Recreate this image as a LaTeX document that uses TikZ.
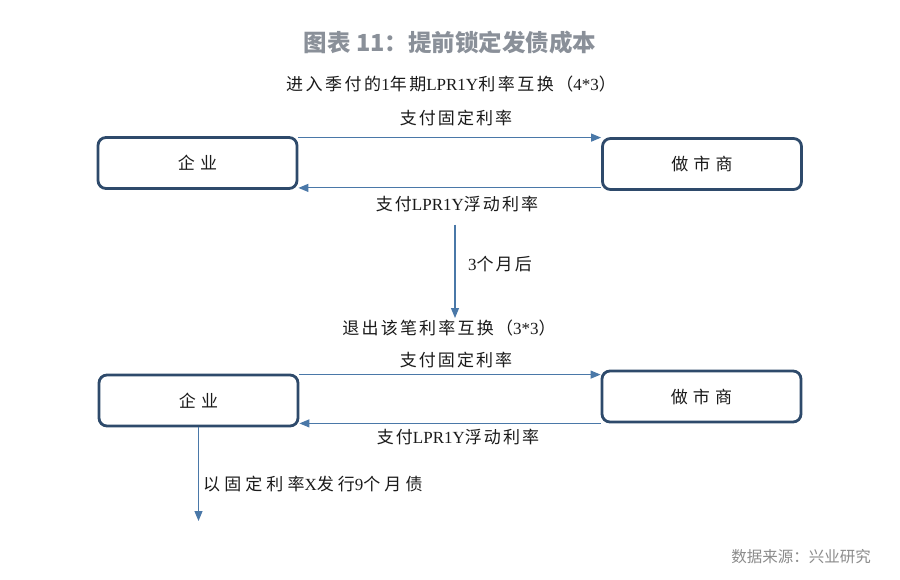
\documentclass[tikz,border=0pt]{standalone}
\usepackage{fontspec}
\usetikzlibrary{arrows.meta}
\setmainfont{Liberation Serif}
\newfontfamily\cjk{Noto Sans CJK SC}
\newcommand\cz[2][12]{{\cjk\addfontfeature{LetterSpace=#1}#2}}
\definecolor{boxc}{HTML}{2E4A6B}
\definecolor{arrc}{HTML}{4A78A8}
\definecolor{titlec}{HTML}{8A9099}
\definecolor{srcc}{HTML}{8C8C8C}
\definecolor{txtc}{HTML}{1A1A1A}
\begin{document}
\begin{tikzpicture}[x=1pt,y=-1pt,
  box/.style={draw=boxc, line width=2.8pt, rounded corners=8pt, minimum width=199pt, minimum height=51pt, fill=white, inner sep=0pt, text=txtc, font=\fontsize{17}{19}\selectfont},
  arr/.style={draw=arrc, line width=1.1pt, -{Triangle[length=10pt,width=8pt]}, fill=arrc},
  lab/.style={font=\fontsize{17}{19}\selectfont, inner sep=0pt, text=txtc},
  sublab/.style={font=\fontsize{17}{19}\selectfont, inner sep=0pt, text=txtc},
]
\path[fill=white] (0,0) rectangle (900,580);
\useasboundingbox (0,0) rectangle (900,580);

\node[font=\fontsize{23.5}{27}\selectfont\bfseries, text=titlec, inner sep=0pt] (title) at (450,43) {\cjk 图表 11：提前锁定发债成本};

\node[sublab] (sub1) at (451,84) {\cz[15]{进入季付的}1\cz[15]{年期}LPR1Y\cz[15]{利率互换（}4*3\cz[15]{）}};

\node[box] (A1) at (197.5,163) {\cz[30]{企业}};
\node[box] (B1) at (702,164) {\cz[30]{做市商}};
\draw[arr] ([yshift=-1.5pt]A1.north east) -- ([yshift=-1.5pt]A1.north east -| B1.west);
\node[lab] (l1) at (456,118) {\cz{支付固定利率}};
\coordinate (c1) at ([yshift=3pt]B1.south west);
\draw[arr] (c1) -- (c1 -| A1.east);
\node[lab] (l2) at (457,204) {\cz{支付}LPR1Y\cz{浮动利率}};

\coordinate (m1) at (455,225);
\coordinate (m2) at (455,318);
\draw[arr] (m1) -- (m2);
\node[lab, anchor=west] (l3) at (468,264) {3\cz{个月后}};

\node[sublab] (sub2) at (449,328) {\cz[13]{退出该笔利率互换（}3*3\cz[13]{）}};
\node[lab] (l4) at (456,360) {\cz{支付固定利率}};

\node[box] (A2) at (198.5,400.5) {\cz[30]{企业}};
\node[box] (B2) at (701.5,396.5) {\cz[30]{做市商}};
\draw[arr] ([yshift=-1pt]A2.north east) -- ([yshift=-1pt]A2.north east -| B2.west);
\coordinate (c2) at ([yshift=4pt]A2.south east);
\draw[arr] (c2 -| B2.west) -- (c2);
\node[lab] (l5) at (458,437) {\cz{支付}LPR1Y\cz{浮动利率}};

\coordinate (e1) at (199,521);
\draw[arr] (A2.south) -- (A2.south |- e1);
\node[lab, anchor=west] (l6) at (203,484) {\cz[24]{以固定利率}X\cz[24]{发行}9\cz[24]{个月债}};

\node[font=\fontsize{15.5}{18}\selectfont, text=srcc, anchor=east, inner sep=0pt] (src) at (871,557) {\cjk 数据来源：兴业研究};
\end{tikzpicture}
\end{document}
